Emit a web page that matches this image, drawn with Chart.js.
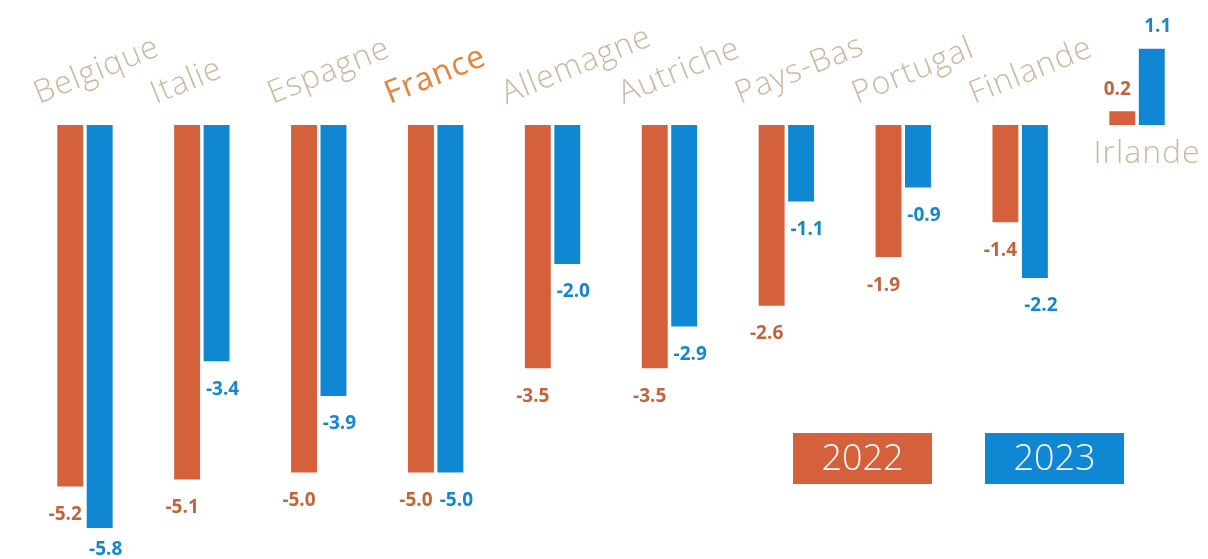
<!DOCTYPE html>
<html>
<head>
<meta charset="utf-8">
<script src="https://cdn.jsdelivr.net/npm/chart.js@4"></script>
<style>
html,body{margin:0;padding:0;background:#fff;}
canvas{display:block;}
</style>
</head>
<body>
<canvas id="c" width="1208" height="559"></canvas>
<script>
const categories = ['Belgique','Italie','Espagne','France','Allemagne','Autriche','Pays-Bas','Portugal','Finlande','Irlande'];
const values2022 = [-5.2,-5.1,-5.0,-5.0,-3.5,-3.5,-2.6,-1.9,-1.4,0.2];
const values2023 = [-5.8,-3.4,-3.9,-5.0,-2.0,-2.9,-1.1,-0.9,-2.2,1.1];
const seriesLabels = ['2022','2023'];
const highlighted = 'France';

const barColors = ['#d4613b','#0f87d2'];
const textColors = ['#c4643a','#1387d0'];
const labelShift = [-5, 6];
const catColor = '#cbb8a2';
const catHighlightColor = '#e5843c';

const categoryLabels = {
  id:'categoryLabels',
  afterDatasetsDraw(chart){
    const ctx = chart.ctx, xs = chart.scales.x;
    ctx.save();
    ctx.letterSpacing = '1px';
    categories.forEach((c,i)=>{
      const x = xs.getPixelForValue(i);
      const hi = c===highlighted;
      ctx.font = (hi ? '400' : '300') + ' 32px "Open Sans"';
      ctx.fillStyle = hi ? catHighlightColor : catColor;
      ctx.textBaseline = 'alphabetic';
      if (values2022[i] >= 0 && values2023[i] >= 0) {
        ctx.textAlign = 'center';
        ctx.fillText(c, x + 10, 163);
      } else {
        ctx.save();
        ctx.translate(x - 46, 104);
        ctx.rotate(-22*Math.PI/180);
        ctx.textAlign = 'left';
        ctx.fillText(c, 0, 0);
        ctx.restore();
      }
    });
    ctx.restore();
  }
};

const valueLabels = {
  id:'valueLabels',
  afterDatasetsDraw(chart){
    const ctx = chart.ctx;
    ctx.save();
    ctx.font = '700 19px "Open Sans"';
    ctx.textAlign = 'center';
    ctx.textBaseline = 'middle';
    chart.data.datasets.forEach((ds,d)=>{
      const meta = chart.getDatasetMeta(d);
      ctx.fillStyle = textColors[d];
      meta.data.forEach((bar,i)=>{
        const v = ds.data[i];
        let y = v < 0 ? bar.y + 28 : bar.y - 22;
        y = Math.min(y, chart.height - 9);
        ctx.fillText(v.toFixed(1), bar.x + labelShift[d], y);
      });
    });
    ctx.restore();
  }
};

const legendBoxes = {
  id:'legendBoxes',
  afterDraw(chart){
    const ctx = chart.ctx;
    ctx.save();
    ctx.font = '300 36px "Open Sans"';
    ctx.textAlign = 'center';
    ctx.textBaseline = 'middle';
    seriesLabels.forEach((s,d)=>{
      const x = 793 + d*192, y = 433, w = 139, h = 51;
      ctx.fillStyle = barColors[d];
      ctx.fillRect(x,y,w,h);
      ctx.fillStyle = '#ffffff';
      ctx.fillText(s, x + w/2, y + h/2 + 1);
    });
    ctx.restore();
  }
};

new Chart(document.getElementById('c'), {
  type:'bar',
  data:{
    labels: categories,
    datasets:[
      {label: seriesLabels[0], data: values2022, backgroundColor: barColors[0]},
      {label: seriesLabels[1], data: values2023, backgroundColor: barColors[1]}
    ]
  },
  options:{
    responsive:false,
    devicePixelRatio:1,
    animation:false,
    categoryPercentage:0.504,
    barPercentage:0.88,
    layout:{padding:{left:26.5,right:12.5,top:0,bottom:17}},
    plugins:{legend:{display:false},tooltip:{enabled:false}},
    scales:{
      x:{display:false},
      y:{display:false,min:-6,max:1.8}
    }
  },
  plugins:[categoryLabels,valueLabels,legendBoxes]
});
</script>
</body>
</html>
